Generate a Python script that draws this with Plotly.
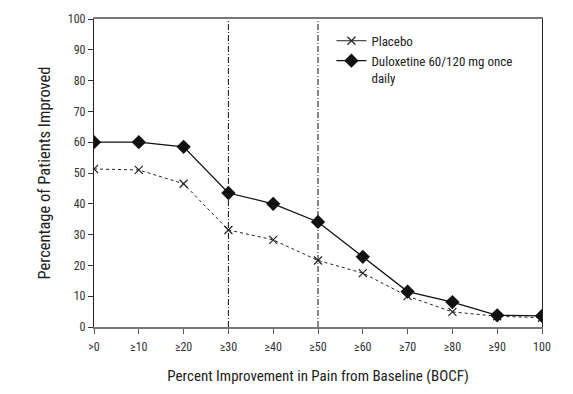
import plotly.graph_objects as go

categories = [">0", "≥10", "≥20", "≥30", "≥40", "≥50", "≥60", "≥70", "≥80", "≥90", "100"]
placebo = [51.3, 51.0, 46.5, 31.5, 28.3, 21.6, 17.5, 10.0, 4.9, 3.5, 3.0]
duloxetine = [60.0, 60.0, 58.5, 43.5, 40.0, 34.1, 22.8, 11.5, 8.1, 3.8, 3.6]
y_ticks = list(range(0, 101, 10))
ref_lines = ["≥30", "≥50"]
series_names = ["Placebo", "Duloxetine 60/120 mg once<br>daily"]

FONT = "Liberation Sans Narrow, Roboto Condensed, Liberation Sans, Arial"

pl_marker = dict(symbol="x-thin", size=8, line=dict(color="#222", width=1.2), color="#222")
du_marker = dict(symbol="diamond", size=11, color="#111")

fig = go.Figure()
fig.add_trace(go.Scatter(
    x=categories, y=placebo, name=series_names[0], mode="lines+markers",
    line=dict(color="#222", width=1, dash="dot"), marker=pl_marker, showlegend=False,
))
fig.add_trace(go.Scatter(
    x=categories, y=duloxetine, name=series_names[1], mode="lines+markers",
    line=dict(color="#111", width=1.3), marker=du_marker, showlegend=False,
))
# legend entries (solid short lines as in the original key)
fig.add_trace(go.Scatter(x=[None], y=[None], name=series_names[0], mode="lines+markers",
                         line=dict(color="#222", width=1), marker=pl_marker))
fig.add_trace(go.Scatter(x=[None], y=[None], name=series_names[1], mode="lines+markers",
                         line=dict(color="#111", width=1.3), marker=du_marker))

for c in ref_lines:
    fig.add_shape(type="line", xref="x", yref="paper", x0=c, x1=c, y0=0, y1=1,
                  line=dict(color="#111", width=1, dash="6px,2px,1px,2px"))

fig.update_layout(
    width=573, height=394,
    margin=dict(l=94, r=31, t=19, b=62),
    paper_bgcolor="white", plot_bgcolor="white",
    font=dict(family=FONT, size=12, color="#222"),
    showlegend=True,
    legend=dict(x=0.53, y=0.978, xanchor="left", yanchor="top", valign="top",
                bgcolor="rgba(0,0,0,0)", font=dict(size=13, family=FONT),
                tracegroupgap=0, itemwidth=30),
)
fig.update_xaxes(
    type="category", categoryorder="array", categoryarray=categories,
    range=[0, 10], showgrid=False, zeroline=False,
    showline=True, linecolor="#777", linewidth=2, mirror=True,
    ticks="outside", ticklen=5, tickcolor="#555", ticklabelstandoff=3,
    tickfont=dict(size=12, color="#333"),
    title=dict(text="Percent Improvement in Pain from Baseline (BOCF)", font=dict(size=15), standoff=17),
)
fig.update_yaxes(
    range=[0, 100], tickvals=y_ticks, showgrid=False, zeroline=False,
    showline=True, linecolor="#222", linewidth=1.2, mirror=True,
    ticks="outside", ticklen=5, tickcolor="#333",
    tickfont=dict(size=12, color="#333"),
    title=dict(text="Percentage of Patients Improved", font=dict(size=16.5), standoff=12),
)

fig.write_html("out.html", config={"displayModeBar": False},
               post_script="document.body.style.margin='0';document.body.style.overflow='hidden';")
